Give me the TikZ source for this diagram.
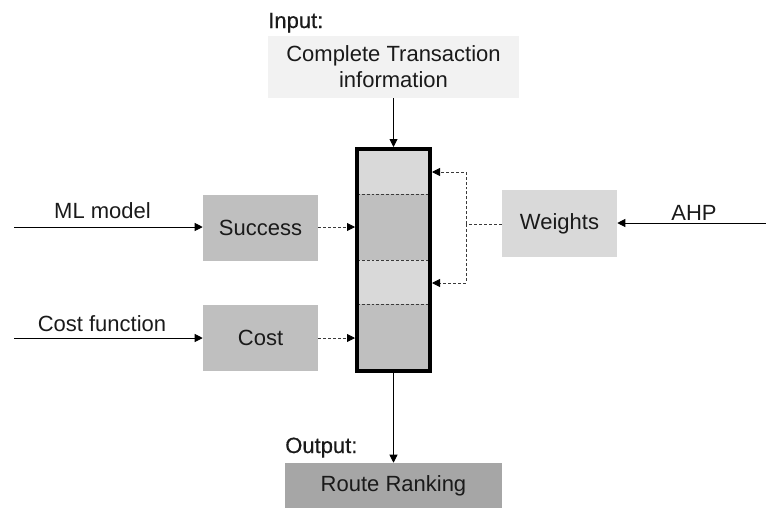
\documentclass[tikz,border=0pt]{standalone}
\usepackage{fontspec}
\setmainfont{Liberation Sans}
\newfontfamily\headfont[BoldFont={Liberation Sans},BoldFeatures={FakeBold=0.6}]{Liberation Sans}
\usetikzlibrary{arrows.meta}
\definecolor{inputfill}{HTML}{F2F2F2}
\definecolor{lightfill}{HTML}{D9D9D9}
\definecolor{midfill}{HTML}{BFBFBF}
\definecolor{darkfill}{HTML}{A6A6A6}
\definecolor{dashgray}{HTML}{3A3A3A}
\definecolor{ink}{HTML}{1A1A1A}

\begin{document}
\begin{tikzpicture}[x=0.75pt,y=-0.75pt,
  font=\fontsize{16.5}{19.5}\selectfont, text=ink,
  box/.style={inner sep=0pt, draw=none, minimum width=86.25pt, minimum height=49.5pt},
  section/.style={inner sep=0pt, minimum width=54.75pt, draw=none},
  dashy/.style={dashgray, line width=0.6pt, dash pattern=on 2.2pt off 1.5pt},
  divider/.style={dashy},
  solidarrow/.style={line width=0.7pt, -{Triangle[length=6pt,width=6pt]}},
  dasharrow/.style={dashy, -{Triangle[length=6pt,width=6pt,color=black,fill=black]}},
  dashline/.style={dashy},
  caption/.style={inner sep=0pt, anchor=base},
  heading/.style={inner sep=0pt, anchor=base west, font=\fontsize{16.5}{19.5}\headfont\bfseries}
]
\useasboundingbox (0,0) rectangle (766,507);

% input and output boxes
\node[inner sep=0pt, fill=inputfill, minimum width=188.25pt, minimum height=46.5pt, align=center]
  (inp) at (393.5,67) {Complete Transaction\\information};
\node[heading] (inlabel) at (268,28) {Input:};
\node[inner sep=0pt, fill=darkfill, minimum width=162.75pt, minimum height=34.5pt]
  (rank) at (393.5,486) {Route Ranking};
\node[heading] (outlabel) at (285,453) {Output:};

% score boxes
\node[box, fill=midfill] (succ) at (260.5,228) {Success};
\node[box, fill=midfill] (cost) at (260.5,338) {Cost};
\node[box, fill=lightfill, minimum height=50.25pt] (wts) at (559.5,223.5) {\raisebox{-2pt}{Weights}};

% the stacked ranking vector
\node[section, fill=lightfill, minimum height=33.75pt] (s1) at (393.5,171.5) {};
\node[section, fill=midfill, minimum height=49.5pt] (s2) at (393.5,227) {};
\node[section, fill=lightfill, minimum height=33pt] (s3) at (393.5,282) {};
\node[section, fill=midfill, minimum height=50.25pt] (s4) at (393.5,337.5) {};
\draw[divider] (s1.south west) -- (s1.south east);
\draw[divider] (s2.south west) -- (s2.south east);
\draw[divider] (s3.south west) -- (s3.south east);
\node[draw=black, line width=3pt, inner sep=0pt, minimum width=54.75pt, minimum height=166.5pt]
  (stack) at (393.5,260) {};

% free ends of the input arrows
\coordinate (mlsrc) at (14,227);
\coordinate (costsrc) at (14,338);
\coordinate (ahpsrc) at (766,223);
\coordinate (split) at (466,224);

\node[caption] (mllabel) at (102.5,218) {ML model};
\node[caption] (costlabel) at (102,331) {Cost function};
\node[caption] (ahplabel) at (694,220) {AHP};

% connectors
\draw[solidarrow] (inp.south -| stack.north) -- (stack.north);
\draw[solidarrow] (stack.south) -- (rank.north -| stack.south);
\draw[solidarrow] (mlsrc) -- (mlsrc -| succ.west);
\draw[solidarrow] (costsrc) -- (costsrc -| cost.west);
\draw[solidarrow] (ahpsrc) -- (ahpsrc -| wts.east);
\draw[dasharrow] (succ.east |- mlsrc) -- (mlsrc -| stack.west);
\draw[dasharrow] (cost.east |- costsrc) -- (costsrc -| stack.west);
\draw[dashline] (wts.west |- split) -- (split);
\draw[dasharrow] (split) |- (stack.east |- 0,172);
\draw[dasharrow] (split) |- (stack.east |- 0,283);
\end{tikzpicture}
\end{document}
